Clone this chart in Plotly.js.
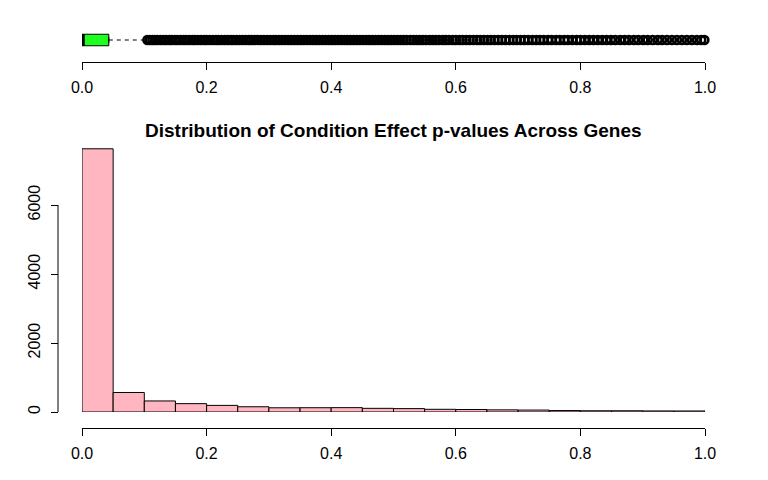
<!DOCTYPE html>
<html>
<head>
<meta charset="utf-8">
<script src="https://cdn.plot.ly/plotly-3.0.1.min.js"></script>
<style>
  html, body { margin: 0; padding: 0; background: #fff; }
  #chart { width: 768px; height: 480px; }
</style>
</head>
<body>
<div id="chart"></div>
<script>
// p-value histogram (bin width 0.05) + boxplot on top, R base-graphics look.

const TITLE = 'Distribution of Condition Effect p-values Across Genes';

// histogram: left edges of bins and counts
const binLeft = [0.00, 0.05, 0.10, 0.15, 0.20, 0.25, 0.30, 0.35, 0.40, 0.45,
                 0.50, 0.55, 0.60, 0.65, 0.70, 0.75, 0.80, 0.85, 0.90, 0.95];
const binCounts = [7630, 565, 320, 242, 192, 152, 122, 124, 126, 106,
                   98, 78, 72, 62, 56, 42, 36, 36, 31, 30];
const BIN_W = 0.05;

// boxplot summary
const boxQ1 = 0.0;
const boxMedian = 0.002;
const boxQ3 = 0.043;
const whiskerHi = 0.105;

// outliers above the upper whisker (dense band 0.105 .. 1.0)
const outliers = [
  0.105,0.109,0.113,0.117,0.121,0.126,0.131,0.135,0.140,0.144,0.149,0.153,0.158,0.163,0.167,
  0.172,0.177,0.181,0.186,0.191,0.196,0.200,0.205,0.210,0.215,0.219,0.224,0.229,0.234,0.239,
  0.243,0.248,0.253,0.258,0.263,0.268,0.272,0.277,0.282,0.287,0.292,0.297,0.302,0.307,0.311,
  0.316,0.321,0.326,0.331,0.336,0.341,0.346,0.351,0.356,0.361,0.366,0.371,0.376,0.381,0.386,
  0.391,0.396,0.401,0.406,0.411,0.416,0.421,0.426,0.431,0.436,0.441,0.446,0.451,0.456,0.461,
  0.466,0.471,0.476,0.481,0.486,0.491,0.496,0.501,0.506,0.511,0.516,0.521,0.527,0.532,0.537,
  0.542,0.547,0.552,0.558,0.563,0.568,0.573,0.579,0.584,0.589,0.595,0.600,0.606,0.611,0.617,
  0.622,0.628,0.634,0.639,0.645,0.651,0.656,0.662,0.668,0.674,0.680,0.686,0.692,0.698,0.704,
  0.710,0.716,0.723,0.729,0.735,0.741,0.748,0.754,0.761,0.767,0.774,0.780,0.787,0.794,0.800,
  0.807,0.814,0.821,0.828,0.835,0.842,0.849,0.856,0.864,0.871,0.878,0.886,0.893,0.901,0.908,
  0.916,0.924,0.931,0.939,0.947,0.955,0.963,0.971,0.979,0.987,0.994,0.999
];

const xTicks = [0, 0.2, 0.4, 0.6, 0.8, 1.0];
const xTickText = ['0.0', '0.2', '0.4', '0.6', '0.8', '1.0'];
const yTicks = [0, 2000, 4000, 6000];

const FONT = '"Liberation Sans", Arial, Helvetica, sans-serif';
const W = 768, H = 480;
const px = (v) => v / W;          // pixel -> paper x
const py = (v) => (H - v) / H;    // pixel -> paper y
const XDOM = [px(82), px(705)];

const xAxisCommon = {
  range: [0, 1], domain: XDOM, anchor: 'free',
  showline: true, linecolor: '#000', linewidth: 1,
  ticks: 'outside', ticklen: 7, tickcolor: '#000', tickwidth: 1,
  tickvals: xTicks, ticktext: xTickText, ticklabelstandoff: 4,
  tickfont: { family: FONT, size: 16, color: '#000' },
  showgrid: false, zeroline: false, fixedrange: true,
};

const traces = [
  {
    type: 'box', orientation: 'h', xaxis: 'x', yaxis: 'y',
    y0: 0, q1: [boxQ1], median: [boxMedian], q3: [boxQ3],
    lowerfence: [boxQ1], upperfence: [boxQ3],
    boxpoints: false, width: 0.72,
    fillcolor: '#1eff1e', line: { color: '#000', width: 1 },
    hoverinfo: 'skip', showlegend: false,
  },
  {
    type: 'scatter', mode: 'lines', xaxis: 'x', yaxis: 'y',
    x: [boxQ3, whiskerHi], y: [0, 0],
    line: { color: '#000', width: 1, dash: '4px,4px' },
    hoverinfo: 'skip', showlegend: false,
  },
  {
    type: 'scatter', mode: 'lines', xaxis: 'x', yaxis: 'y',
    x: [boxMedian, boxMedian], y: [-0.36, 0.36],
    line: { color: '#000', width: 3 },
    hoverinfo: 'skip', showlegend: false,
  },
  {
    type: 'scatter', mode: 'markers', xaxis: 'x', yaxis: 'y', cliponaxis: false,
    x: outliers, y: outliers.map(() => 0),
    marker: { symbol: 'circle-open', size: 8, color: '#000', line: { width: 2.6 } },
    hoverinfo: 'x', showlegend: false,
  },
  {
    type: 'bar', xaxis: 'x2', yaxis: 'y2',
    x: binLeft.map((b) => b + BIN_W / 2), y: binCounts, width: BIN_W,
    marker: { color: '#ffb6c1', line: { color: '#000', width: 1 } },
    hovertemplate: '%{y}<extra></extra>', showlegend: false,
  },
];

const layout = {
  width: W, height: H,
  margin: { l: 0, r: 0, t: 0, b: 0 },
  paper_bgcolor: '#fff', plot_bgcolor: '#fff',
  font: { family: FONT, color: '#000' },
  xaxis: { ...xAxisCommon, position: py(62) },
  yaxis: { domain: [py(56), py(24)], range: [-1, 1], visible: false, fixedrange: true },
  xaxis2: { ...xAxisCommon, position: py(428) },
  yaxis2: {
    domain: [py(412), py(145)], range: [0, 7740],
    anchor: 'free', position: px(58),
    showline: false, ticks: 'outside', ticklen: 7, tickcolor: '#000',
    tickvals: yTicks, tickangle: -90, ticklabelstandoff: 5,
    tickfont: { family: FONT, size: 16, color: '#000' },
    showgrid: false, zeroline: false, fixedrange: true,
  },
  shapes: [
    { type: 'line', xref: 'paper', yref: 'y2', x0: px(58), x1: px(58), y0: 0, y1: 6000,
      line: { color: '#000', width: 1 } },
  ],
  annotations: [
    { xref: 'paper', yref: 'paper', x: (XDOM[0] + XDOM[1]) / 2, y: py(130),
      xanchor: 'center', yanchor: 'middle', showarrow: false,
      text: '<b>' + TITLE + '</b>',
      font: { family: FONT, size: 19, color: '#000' } },
  ],
  bargap: 0,
};

Plotly.newPlot('chart', traces, layout, { displayModeBar: false, staticPlot: true });
</script>
</body>
</html>
